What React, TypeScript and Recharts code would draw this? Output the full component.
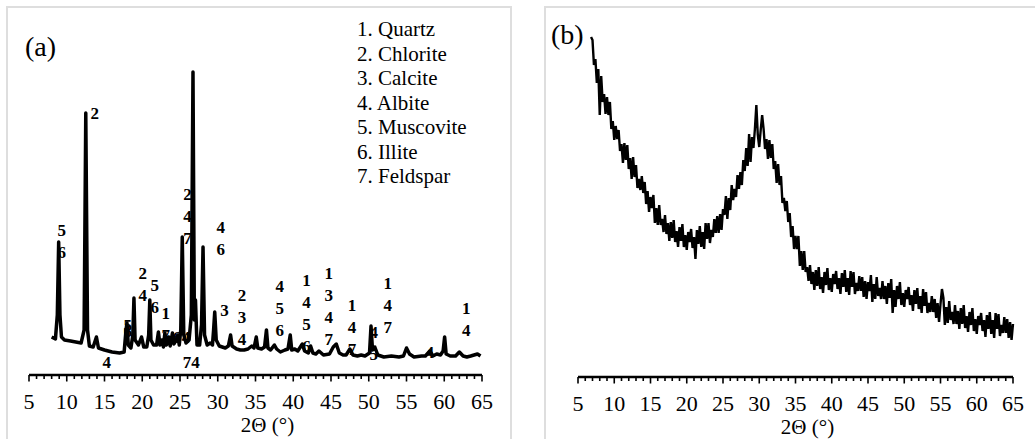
import React from "react";
import { ComposedChart, Line, Scatter, XAxis, YAxis } from "recharts";

const SERIF = '"Liberation Serif", "Times New Roman", serif';

const phases = [
  "1. Quartz",
  "2. Chlorite",
  "3. Calcite",
  "4. Albite",
  "5. Muscovite",
  "6. Illite",
  "7. Feldspar",
];

const majorTicks = [5, 10, 15, 20, 25, 30, 35, 40, 45, 50, 55, 60, 65];
const axisTicks = Array.from({ length: 61 }, (_, i) => 5 + i);

// (a) crystalline sample: [2θ, counts]
const soilPattern: [number, number][] = [
  [8.0, 38], [8.5, 36], [8.75, 60], [8.93, 133], [9.1, 60], [9.3, 38], [9.7, 35],
  [10.5, 34], [11.2, 33], [11.9, 32], [12.3, 45], [12.52, 262], [12.75, 45],
  [13.0, 29], [13.5, 28], [13.93, 38], [14.2, 27], [15.0, 25], [16.0, 23],
  [17.0, 22], [17.6, 23], [17.85, 45], [17.98, 52], [18.15, 30], [18.5, 27],
  [18.75, 40], [18.9, 77], [19.05, 35], [19.5, 30], [19.9, 38], [20.2, 28],
  [20.6, 28], [20.85, 40], [21.0, 75], [21.15, 35], [21.5, 30], [21.9, 30],
  [22.14, 43], [22.35, 30], [22.6, 35], [22.8, 28], [23.0, 42], [23.2, 30],
  [23.5, 38], [23.7, 29], [24.0, 42], [24.2, 31], [24.5, 35], [24.7, 40],
  [24.9, 30], [25.1, 45], [25.3, 138], [25.5, 40], [25.8, 32], [26.2, 35],
  [26.5, 60], [26.72, 303], [26.9, 55], [27.05, 75], [27.25, 30], [27.6, 30],
  [27.85, 50], [28.05, 128], [28.25, 40], [28.6, 30], [29.0, 32], [29.3, 30],
  [29.45, 45], [29.6, 63], [29.8, 35], [30.2, 29], [30.6, 28], [31.0, 27],
  [31.4, 29], [31.7, 40], [31.9, 29], [32.5, 26], [33.0, 25], [33.5, 25],
  [34.0, 26], [34.5, 29], [34.8, 27], [35.1, 38], [35.3, 27], [35.8, 26],
  [36.2, 28], [36.45, 45], [36.65, 27], [37.0, 25], [37.5, 30], [37.8, 26],
  [38.3, 23], [38.9, 25], [39.3, 26], [39.6, 40], [39.8, 25], [40.2, 26],
  [40.6, 24], [41.2, 31], [41.5, 24], [42.0, 22], [42.3, 29], [42.6, 22],
  [43.0, 21], [43.4, 24], [44.0, 20], [44.8, 21], [45.3, 28], [45.7, 31],
  [46.1, 22], [46.6, 20], [47.0, 20], [47.5, 26], [47.9, 20], [48.5, 19],
  [49.0, 20], [49.5, 19], [50.1, 22], [50.3, 49], [50.5, 25], [50.8, 28],
  [51.2, 20], [52.0, 18], [53.0, 19], [54.0, 18], [54.6, 19], [55.0, 27],
  [55.4, 21], [56.0, 18], [57.0, 19], [57.5, 19], [58.1, 24], [58.5, 19],
  [59.0, 21], [59.5, 20], [59.85, 24], [60.05, 38], [60.25, 21], [60.8, 19],
  [61.5, 19], [62.0, 23], [62.5, 19], [63.0, 18], [63.5, 19], [64.4, 21],
  [64.8, 19],
];

// peak assignments: 2θ, counts level of first mark, marks top to bottom
const soilPeakLabels = [
  { theta: 9.34, top: 145, marks: ["5", "6"] },
  { theta: 13.71, top: 262, marks: ["2"] },
  { theta: 15.3, top: 13, marks: ["4"] },
  { theta: 18.08, top: 50, marks: ["5"] },
  { theta: 18.08, top: 44, marks: ["6"] },
  { theta: 20.07, top: 102, marks: ["2", "4"] },
  { theta: 21.66, top: 90, marks: ["5", "6"] },
  { theta: 23.1, top: 62, marks: ["1", "7"] },
  { theta: 24.6, top: 38, marks: ["6"] },
  { theta: 25.8, top: 38, marks: ["4"] },
  { theta: 26.0, top: 181, marks: ["2", "4", "7"] },
  { theta: 26.5, top: 13, marks: ["74"] },
  { theta: 30.39, top: 148, marks: ["4", "6"] },
  { theta: 30.9, top: 65, marks: ["3"] },
  { theta: 33.21, top: 80, marks: ["2", "3", "4"] },
  { theta: 38.2, top: 89, marks: ["4", "5", "6"] },
  { theta: 41.74, top: 95, marks: ["1", "4", "5", "6"] },
  { theta: 44.69, top: 102, marks: ["1", "3", "4", "7"] },
  { theta: 47.78, top: 70, marks: ["1", "4", "7"] },
  { theta: 50.66, top: 43, marks: ["4", "5"] },
  { theta: 52.51, top: 92, marks: ["1", "4", "7"] },
  { theta: 58.07, top: 23, marks: ["4"] },
  { theta: 62.93, top: 67, marks: ["1", "4"] },
];

// (b) amorphous sample, scanned from 6.8° in 0.2° steps (one row per degree)
const glassStart = 6.8;
const glassStep = 0.2;
const glassCounts = [
  340,
  337, 312, 318, 294, 308,
  262, 301, 275, 283, 263,
  280, 262, 275, 248, 256,
  237, 251, 238, 247, 226,
  233, 214, 234, 217, 232,
  208, 219, 198, 220, 200,
  212, 189, 198, 187, 201,
  184, 195, 173, 186, 165,
  180, 169, 182, 154, 169,
  152, 172, 152, 158, 145,
  162, 143, 154, 136, 155,
  139, 157, 135, 146, 130,
  150, 136, 153, 130, 142,
  127, 145, 135, 148, 129,
  140, 118, 147, 133, 151,
  130, 145, 128, 154, 138,
  154, 134, 147, 140, 158,
  144, 161, 144, 163, 147,
  168, 162, 181, 158, 179,
  167, 192, 177, 188, 180,
  202, 188, 205, 192, 217,
  206, 229, 211, 243, 215,
  240, 229, 248, 272, 242,
  230, 247, 262, 248, 228,
  238, 218, 237, 219, 233,
  208, 216, 194, 213, 192,
  201, 174, 179, 166, 176,
  155, 164, 140, 151, 128,
  141, 128, 141, 111, 126,
  107, 126, 105, 110, 96,
  112, 93, 105, 87, 107,
  91, 110, 88, 100, 84,
  105, 92, 109, 87, 99,
  85, 103, 93, 106, 88,
  99, 83, 104, 90, 107,
  85, 99, 82, 106, 90,
  105, 83, 94, 86, 101,
  86, 100, 80, 96, 78,
  95, 86, 102, 75, 93,
  78, 100, 81, 89, 78,
  96, 78, 91, 73, 94,
  79, 98, 64, 87, 70,
  91, 78, 95, 72, 84,
  70, 87, 78, 90, 72,
  82, 66, 87, 73, 89,
  68, 81, 64, 88, 71,
  85, 64, 74, 65, 81,
  65, 78, 59, 74, 55,
  73, 88, 79, 52, 70,
  54, 76, 57, 65, 53,
  72, 53, 66, 48, 69,
  53, 72, 49, 61, 45,
  65, 52, 69, 46, 58,
  43, 61, 52, 64, 46,
  57, 40, 62, 48, 65,
  43, 57, 39, 64, 48,
  63, 41, 52, 44, 60,
  44, 58, 39, 55, 37,
  53,
];

const soilData = soilPattern.map(([theta, counts]) => ({ theta, counts }));
const labelData = soilPeakLabels.map((l) => ({ theta: l.theta, counts: l.top, marks: l.marks }));
const glassData = glassCounts.map((counts, i) => ({
  theta: +(glassStart + i * glassStep).toFixed(1),
  counts,
}));

const AxisTick = (props: any) => {
  const { x, y, payload } = props;
  const major = majorTicks.includes(payload.value);
  return (
    <g>
      <line x1={x} x2={x} y1={y} y2={y + (major ? 6.5 : 4)} stroke="#000" strokeWidth={1.6} />
      {major && (
        <text x={x} y={y + 34} textAnchor="middle" fontFamily={SERIF} fontSize={22} fill="#000">
          {payload.value}
        </text>
      )}
    </g>
  );
};

const AxisTitle = (props: any) => {
  const { viewBox } = props;
  if (!viewBox) return null;
  return (
    <text
      x={viewBox.x + viewBox.width / 2 + 12}
      y={viewBox.y + 57}
      textAnchor="middle"
      fontFamily={SERIF}
      fontSize={21}
      fill="#000"
    >
      2Θ (°)
    </text>
  );
};

const PeakMark = (props: any) => {
  const { cx, cy } = props;
  const marks: string[] = props.payload?.marks ?? props.marks ?? [];
  return (
    <text textAnchor="middle" fontFamily={SERIF} fontWeight="bold" fontSize={17} fill="#000">
      {marks.map((m, i) => (
        <tspan key={i} x={cx} y={cy + i * 22} dy="0.35em">
          {m}
        </tspan>
      ))}
    </text>
  );
};

const xAxisProps = {
  dataKey: "theta",
  type: "number" as const,
  domain: [5, 65],
  ticks: axisTicks,
  interval: 0 as const,
  tickSize: 0,
  tickMargin: 0,
  tickLine: false,
  tick: (p: any) => <AxisTick {...p} />,
  axisLine: { stroke: "#000", strokeWidth: 2.5 },
  label: <AxisTitle />,
};

const frame: React.CSSProperties = {
  position: "absolute",
  top: 6,
  height: 500,
  border: "2px solid #dedede",
  boxSizing: "border-box",
};

export default function App() {
  return (
    <div style={{ position: "absolute", left: 0, top: 0, width: 1035, height: 439, background: "#fff", overflow: "hidden" }}>
      <div style={{ ...frame, left: 6, width: 506 }} />
      <div style={{ ...frame, left: 544, width: 600 }} />

      <div style={{ position: "absolute", left: 0, top: 0 }}>
        <ComposedChart width={511} height={439} data={soilData} margin={{ top: 55, right: 29, bottom: 0, left: 29 }}>
          <XAxis {...xAxisProps} height={64} />
          <YAxis hide width={0} domain={[0, 320]} />
          <Scatter data={labelData} dataKey="counts" shape={(p: any) => <PeakMark {...p} />} isAnimationActive={false} />
          <Line
            dataKey="counts"
            stroke="#000"
            strokeWidth={3.5}
            strokeLinejoin="round"
            dot={false}
            activeDot={false}
            isAnimationActive={false}
          />
        </ComposedChart>
      </div>

      <div style={{ position: "absolute", left: 545, top: 0 }}>
        <ComposedChart width={490} height={439} data={glassData} margin={{ top: 27, right: 22, bottom: 0, left: 33 }}>
          <XAxis {...xAxisProps} height={62} />
          <YAxis hide width={0} domain={[0, 350]} />
          <Line
            dataKey="counts"
            stroke="#000"
            strokeWidth={2.4}
            dot={false}
            activeDot={false}
            isAnimationActive={false}
          />
        </ComposedChart>
      </div>

      <svg width={1035} height={439} style={{ position: "absolute", left: 0, top: 0, pointerEvents: "none" }}>
        <text x={25} y={56} fontFamily={SERIF} fontSize={28} fill="#000">(a)</text>
        <text x={551} y={44} fontFamily={SERIF} fontSize={28} fill="#000">(b)</text>
        {phases.map((p, i) => (
          <text key={p} x={357} y={36 + i * 24.5} fontFamily={SERIF} fontSize={21} fill="#000">
            {p}
          </text>
        ))}
      </svg>
    </div>
  );
}
